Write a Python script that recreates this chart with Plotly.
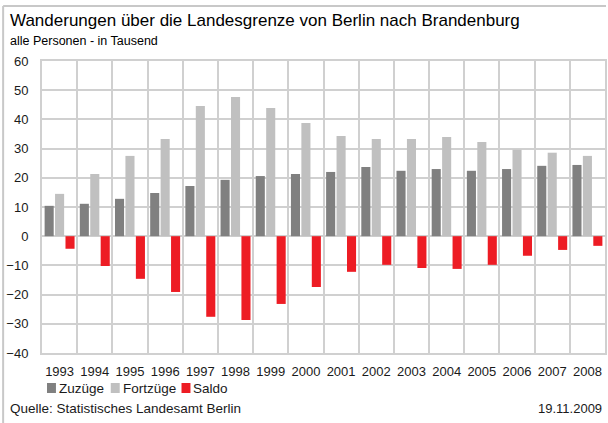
import plotly.graph_objects as go

# Migration across the Berlin state border towards Brandenburg, in thousands
years = ["1993", "1994", "1995", "1996", "1997", "1998", "1999", "2000",
         "2001", "2002", "2003", "2004", "2005", "2006", "2007", "2008"]
zuzuege = [10.4, 11.1, 12.8, 14.8, 17.2, 19.3, 20.6, 21.3,
           22.0, 23.7, 22.4, 23.0, 22.4, 23.0, 24.1, 24.4]
fortzuege = [14.5, 21.3, 27.5, 33.3, 44.6, 47.7, 43.9, 38.8,
             34.3, 33.3, 33.3, 34.0, 32.3, 29.6, 28.6, 27.5]
saldo = [-4.3, -10.2, -14.6, -19.1, -27.6, -28.7, -23.2, -17.4,
         -12.2, -9.8, -10.9, -11.2, -9.8, -6.7, -4.7, -3.3]
y_ticks = [-40, -30, -20, -10, 0, 10, 20, 30, 40, 50, 60]

series_names = ["Zuzüge", "Fortzüge", "Saldo"]
series_colors = ["#808080", "#c0c0c0", "#ed1c24"]

title_text = "Wanderungen über die Landesgrenze von Berlin nach Brandenburg"
subtitle_text = "alle Personen - in Tausend"
source_text = "Quelle: Statistisches Landesamt Berlin"
date_text = "19.11.2009"

FONT = "Liberation Sans, Arial, sans-serif"
GRID = "#d0d0d0"

# figure and plot-area geometry in pixels
FW, FH = 608, 423
L, R, T, B = 42, 607, 61, 353
PW, PH = R - L, B - T


def px(x):
    return (x - L) / PW


def py(y):
    return 1 - (y - T) / PH


fig = go.Figure()
for name, vals, col in zip(series_names, [zuzuege, fortzuege, saldo], series_colors):
    fig.add_trace(go.Bar(x=years, y=vals, name=name, marker_color=col,
                         marker_line_width=0, showlegend=False))

fig.update_layout(
    width=FW, height=FH,
    margin=dict(l=L, r=FW - R, t=T, b=FH - B, pad=0),
    paper_bgcolor="white", plot_bgcolor="white",
    barmode="group", bargap=0.11, bargroupgap=0.13,
    font=dict(family=FONT, size=13, color="#1a1a1a"),
)

fig.update_xaxes(
    type="category", tickson="boundaries", ticks="", tickangle=0,
    showgrid=True, gridcolor=GRID, gridwidth=2,
    showline=True, linecolor=GRID, linewidth=2, mirror=True,
    tickfont=dict(size=13), ticklabelstandoff=5,
)
fig.update_yaxes(
    range=[-40, 60], tickvals=y_ticks, ticks="",
    showgrid=True, gridcolor=GRID, gridwidth=2,
    zeroline=True, zerolinecolor=GRID, zerolinewidth=2,
    showline=True, linecolor=GRID, linewidth=2, mirror=True,
    tickfont=dict(size=13), ticklabelstandoff=9,
)

annotations = [
    dict(text=title_text, x=px(9), y=py(21), font=dict(size=17, color="#000")),
    dict(text=subtitle_text, x=px(9), y=py(41), font=dict(size=12.5, color="#000")),
    dict(text=source_text, x=px(9), y=py(408), font=dict(size=13.5, color="#1a1a1a")),
]
# legend: colour squares followed by series names
legend_boxes = [(47, 56), (111, 120), (182, 191)]
shapes = []
for (x0, x1), name, col in zip(legend_boxes, series_names, series_colors):
    shapes.append(dict(type="rect", xref="paper", yref="paper",
                       x0=px(x0), x1=px(x1), y0=py(393), y1=py(383),
                       fillcolor=col, line_width=0))
    annotations.append(dict(text=name, x=px(x1 + 2), y=py(388),
                            font=dict(size=13.5, color="#1a1a1a")))

for a in annotations:
    a.update(xref="paper", yref="paper", xanchor="left", yanchor="middle",
             showarrow=False, borderpad=0)
annotations.append(dict(text=date_text, xref="paper", yref="paper",
                        x=px(605), y=py(408), xanchor="right", yanchor="middle",
                        showarrow=False, borderpad=0,
                        font=dict(size=13, color="#1a1a1a")))

# outer frame: top and left edges
shapes.append(dict(type="line", xref="paper", yref="paper",
                   x0=px(3), x1=px(608), y0=py(6), y1=py(6),
                   line=dict(color="#c8c8c8", width=2)))
shapes.append(dict(type="line", xref="paper", yref="paper",
                   x0=px(3), x1=px(3), y0=py(6), y1=py(423),
                   line=dict(color="#c8c8c8", width=2)))

fig.update_layout(annotations=annotations, shapes=shapes)
fig.write_html("out.html")
